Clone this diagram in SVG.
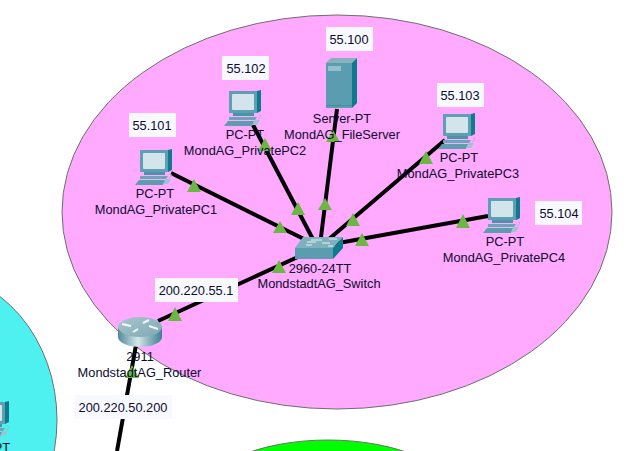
<svg xmlns="http://www.w3.org/2000/svg" width="637" height="451" viewBox="0 0 637 451">
<style>
text{font-family:"Liberation Sans",Arial,sans-serif;font-size:12.8px;fill:#0c0c2c;text-anchor:middle}
.area{stroke:#6f6f6f;stroke-width:1}
.link{stroke:#000;stroke-width:4;fill:none}
.tri{fill:#6db644}
.box{fill:#f8f8ff}
</style>
<defs>
<linearGradient id="cyl" x1="0" x2="1" y1="0" y2="0">
<stop offset="0" stop-color="#4f8a9a"/><stop offset="0.45" stop-color="#d5e6ea"/><stop offset="0.7" stop-color="#8db6c0"/><stop offset="1" stop-color="#3d7f90"/>
</linearGradient>
<linearGradient id="rtop" x1="0" x2="1" y1="0" y2="1">
<stop offset="0" stop-color="#a9c6ce"/><stop offset="1" stop-color="#7fa8b4"/>
</linearGradient>
<g id="pc">
<polygon points="33,1 37,0 37,21 33,23" fill="#0d7a8e"/>
<rect x="5" y="1" width="28" height="22" fill="#5e9fb3"/>
<rect x="8" y="4" width="22" height="16" rx="1" fill="#d3e4ea"/>
<polygon points="9,23 30,23 30,26 9,26" fill="#4d93a7"/>
<polygon points="5,27 33,27 31,30 5,30" fill="#6aa6b7"/>
<polygon points="4,31 30,31 28,36 0,36" fill="#5f9cae"/>
<polygon points="28,35 31,30 36,30 33,35" fill="#9dc3d0"/>
<path d="M34,29 Q39,26 35,25" fill="none" stroke="#9dbcc8" stroke-width="1"/>
</g>
</defs>
<ellipse class="area" cx="337" cy="212" rx="275" ry="197" fill="#ffa9ff"/>
<ellipse class="area" cx="-70" cy="420" rx="127" ry="148" fill="#4ff0f0"/>
<ellipse class="area" cx="328" cy="500" rx="130" ry="60" fill="#00ff00"/>
<g id="connectors">
<line class="link" x1="171" y1="173" x2="316" y2="245"/>
<line class="link" x1="253" y1="125" x2="316" y2="245"/>
<line class="link" x1="337" y1="109" x2="320" y2="245"/>
<line class="link" x1="445" y1="140" x2="322" y2="245"/>
<line class="link" x1="488" y1="216" x2="322" y2="246"/>
<line class="link" x1="158" y1="321" x2="300" y2="256"/>
<line class="link" x1="136" y1="345" x2="117" y2="451"/>
<polygon class="tri" points="194,179 187,192 201,192"/>
<polygon class="tri" points="280,221 273,233 287,233"/>
<polygon class="tri" points="265,138 258,151 272,151"/>
<polygon class="tri" points="298,202 291,215 305,215"/>
<polygon class="tri" points="333,130 326,142 340,142"/>
<polygon class="tri" points="325,198 318,210 332,210"/>
<polygon class="tri" points="426,151 419,164 433,164"/>
<polygon class="tri" points="353,213 346,226 360,226"/>
<polygon class="tri" points="463,214 456,228 470,228"/>
<polygon class="tri" points="362,233 355,246 369,246"/>
<polygon class="tri" points="279,260 272,273 286,273"/>
<polygon class="tri" points="175,307 168,321 182,321"/>
<polygon class="tri" points="132,365 125,378 139,378"/>
</g>
<g id="pc0"><use href="#pc" x="-28" y="401"/><text x="-9" y="452">PC-PT</text></g>
<g id="pc1"><use href="#pc" x="135" y="149"/><text x="155" y="198">PC-PT</text><text x="156" y="214">MondAG_PrivatePC1</text>
<rect class="box" x="129" y="113" width="47" height="24"/><text x="152" y="130">55.101</text></g>
<g id="pc2"><use href="#pc" x="224" y="90"/><text x="245" y="139">PC-PT</text><text x="245" y="155">MondAG_PrivatePC2</text>
<rect class="box" x="222" y="56" width="47" height="24"/><text x="246" y="73">55.102</text></g>
<g id="pc3"><use href="#pc" x="438" y="113"/><text x="459" y="162">PC-PT</text><text x="458" y="178">MondAG_PrivatePC3</text>
<rect class="box" x="437" y="83" width="47" height="24"/><text x="460" y="100">55.103</text></g>
<g id="pc4"><use href="#pc" x="483" y="197"/><text x="505" y="246">PC-PT</text><text x="504" y="262">MondAG_PrivatePC4</text>
<rect class="box" x="535" y="201" width="47" height="24"/><text x="559" y="218">55.104</text></g>
<g id="server">
<polygon points="326,63 331,58 357,58 352,63" fill="#86b1bd"/>
<rect x="326" y="63" width="26" height="45" fill="#5a9db1"/>
<polygon points="352,63 357,58 357,103 352,108" fill="#0d7a8e"/>
<rect x="328" y="66" width="13" height="5" fill="#94c0cb"/>
<rect x="326" y="105" width="26" height="1" fill="#4a8a9d"/>
<text x="342" y="123">Server-PT</text><text x="342" y="139">MondAG_FileServer</text>
<rect class="box" x="326" y="27" width="47" height="24"/><text x="349" y="44">55.100</text></g>
<g id="switch">
<polygon points="303,237 343,237 333,248 295,248" fill="#7fb0bd"/>
<rect x="295" y="248" width="38" height="11" fill="#5a9db1"/>
<polygon points="333,248 343,237 343,248 333,259" fill="#0d7a8e"/>
<path d="M307,242H316M329,239H337M311,240H322M322,243H330M306,245H312M328,246H333" stroke="#e8f2f4" stroke-width="1" fill="none"/>
<text x="320" y="273">2960-24TT</text><text x="319" y="288">MondstadtAG_Switch</text></g>
<g id="router">
<path d="M118,327V337A22,10 0 0 0 162,337V327Z" fill="url(#cyl)"/>
<ellipse cx="140" cy="327" rx="22" ry="10" fill="url(#rtop)"/>
<path d="M122,324L131,326M143,323L149,320M149,326L158,329M133,332L138,329" stroke="#f2f8f9" stroke-width="2" fill="none"/>
<text x="140" y="361">2911</text><text x="139.500" y="377">MondstadtAG_Router</text>
<rect class="box" x="155" y="278" width="83" height="24"/><text x="196" y="295">200.220.55.1</text>
<rect class="box" x="75" y="395" width="97" height="24"/><text x="123" y="412">200.220.50.200</text></g>
</svg>
